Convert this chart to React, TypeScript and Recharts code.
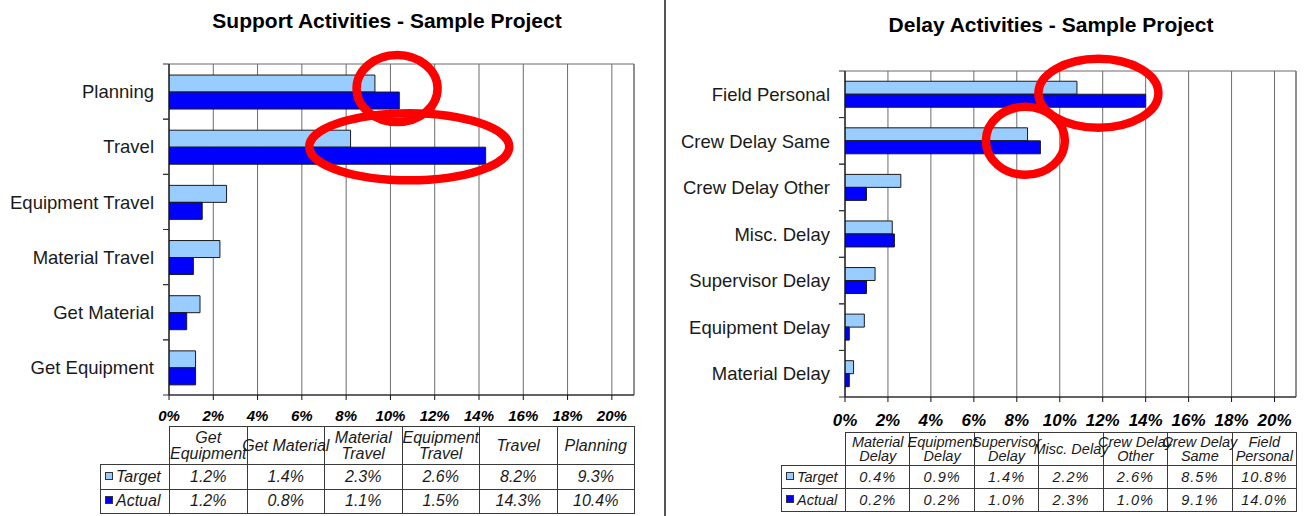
import React from "react";
import { BarChart, Bar, XAxis, YAxis, CartesianGrid, ReferenceArea, ReferenceDot } from "recharts";

const FONT = '"Liberation Sans", Arial, sans-serif';

// left panel: support activities (table order, bottom to top on the chart)
const supportCategories = ["Get Equipment", "Get Material", "Material Travel", "Equipment Travel", "Travel", "Planning"];
const supportHeaderLabels = ["Get\nEquipment", "Get Material", "Material\nTravel", "Equipment\nTravel", "Travel", "Planning"];
const supportTarget = [1.2, 1.4, 2.3, 2.6, 8.2, 9.3];
const supportActual = [1.2, 0.8, 1.1, 1.5, 14.3, 10.4];

// right panel: delay activities
const delayCategories = ["Material Delay", "Equipment Delay", "Supervisor Delay", "Misc. Delay", "Crew Delay Other", "Crew Delay Same", "Field Personal"];
const delayHeaderLabels = ["Material\nDelay", "Equipment\nDelay", "Supervisor\nDelay", "Misc. Delay", "Crew Delay\nOther", "Crew Delay\nSame", "Field\nPersonal"];
const delayTarget = [0.4, 0.9, 1.4, 2.2, 2.6, 8.5, 10.8];
const delayActual = [0.2, 0.2, 1.0, 2.3, 1.0, 9.1, 14.0];

const percentTicks = [0, 2, 4, 6, 8, 10, 12, 14, 16, 18, 20];
const seriesLabels = ["Target", "Actual"];

const TARGET_FILL = "#99CCFF";
const ACTUAL_FILL = "#0000FF";
const GRID = "#6b6b6b";
const RED = "#FF0000";

function CategoryTick(props: any) {
  const { x, y, payload, halfBand, fontSize, gap } = props;
  const axisX = x + gap;
  return (
    <g>
      <line x1={axisX - 6} x2={axisX} y1={y - halfBand} y2={y - halfBand} stroke="#333" />
      <line x1={axisX - 6} x2={axisX} y1={y + halfBand} y2={y + halfBand} stroke="#333" />
      <text x={x} y={y} dy="0.36em" textAnchor="end" fontSize={fontSize} fontFamily={FONT} fill="#1a1a1a">
        {payload.value}
      </text>
    </g>
  );
}

function DataTable({ p, plotLeft, plotWidth }: any) {
  const n = p.categories.length;
  const colW = plotWidth / n;
  const legendW = plotLeft - p.table.left;
  const border = "1px solid #3a3a3a";
  const cell: React.CSSProperties = { border, padding: 0, textAlign: "center", overflow: "visible" };
  const rows = [
    { label: seriesLabels[0], color: TARGET_FILL, values: p.target },
    { label: seriesLabels[1], color: ACTUAL_FILL, values: p.actual },
  ];
  return (
    <table
      style={{
        position: "absolute",
        left: p.table.left,
        top: p.table.top,
        width: legendW + plotWidth,
        borderCollapse: "collapse",
        tableLayout: "fixed",
        fontFamily: FONT,
        fontStyle: "italic",
        color: "#1a1a1a",
        fontSize: p.table.font,
      }}
    >
      <colgroup>
        <col style={{ width: legendW }} />
        {p.categories.map((c: string) => (
          <col key={c} style={{ width: colW }} />
        ))}
      </colgroup>
      <tbody>
        <tr style={{ height: p.table.headerHeight }}>
          <td style={{ padding: 0, border: "none" }} />
          {p.headers.map((h: string) => (
            <td key={h} style={cell}>
              <div style={{ display: "flex", justifyContent: "center", whiteSpace: "pre", lineHeight: `${p.table.font}px`, textAlign: "center" }}>
                {h}
              </div>
            </td>
          ))}
        </tr>
        {rows.map((r) => (
          <tr key={r.label} style={{ height: p.table.rowHeight }}>
            <td style={{ ...cell, textAlign: "left", whiteSpace: "nowrap" }}>
              <span
                style={{
                  display: "inline-block",
                  width: 6,
                  height: 6,
                  background: r.color,
                  border: "1px solid #333",
                  marginLeft: 4,
                  marginRight: 3,
                  verticalAlign: "middle",
                  position: "relative",
                  top: -2,
                }}
              />
              {r.label}
            </td>
            {r.values.map((v: number, i: number) => (
              <td key={i} style={{ ...cell, letterSpacing: p.table.valueSpacing }}>
                {v.toFixed(1)}%
              </td>
            ))}
          </tr>
        ))}
      </tbody>
    </table>
  );
}

function Panel({ p }: any) {
  const data = p.categories.map((name: string, i: number) => ({ name, target: p.target[i], actual: p.actual[i] }));
  const plotLeft = p.left + p.margin.left + p.yWidth;
  const plotWidth = p.width - p.margin.left - p.margin.right - p.yWidth;
  const plotHeight = p.height - p.margin.top - p.margin.bottom - p.xHeight;
  const halfBand = plotHeight / p.categories.length / 2;
  return (
    <>
      <div
        style={{
          position: "absolute",
          left: p.titleCenter - 250,
          top: p.titleTop,
          width: 500,
          textAlign: "center",
          fontFamily: FONT,
          fontWeight: "bold",
          fontSize: 21,
          lineHeight: "21px",
          color: "#000",
        }}
      >
        {p.title}
      </div>
      <div style={{ position: "absolute", left: p.left, top: 0 }}>
        <BarChart width={p.width} height={p.height} data={data} layout="vertical" margin={p.margin} barCategoryGap={p.barGap} barGap={0}>
          <CartesianGrid horizontal={false} stroke={GRID} strokeWidth={1} />
          <XAxis
            type="number"
            domain={[0, 21]}
            ticks={percentTicks}
            allowDataOverflow
            interval={0}
            height={p.xHeight}
            tickFormatter={(v) => `${v}%`}
            axisLine={{ stroke: "#111" }}
            tickLine={{ stroke: "#111" }}
            tickSize={5}
            tickMargin={p.tickMargin}
            tick={{ fill: "#000", fontSize: p.tickFont, fontWeight: "bold", fontStyle: "italic", fontFamily: FONT }}
          />
          <YAxis
            type="category"
            dataKey="name"
            reversed
            interval={0}
            width={p.yWidth}
            axisLine={{ stroke: "#111" }}
            tickLine={false}
            tickSize={6}
            tickMargin={9}
            tick={(t: any) => <CategoryTick {...t} gap={15} halfBand={halfBand} fontSize={p.labelFont} />}
          />
          <ReferenceArea x1={0} x2={21} fill="none" stroke={GRID} ifOverflow="visible" />
          <Bar dataKey="target" fill={TARGET_FILL} stroke="#1a1a1a" strokeWidth={1} isAnimationActive={false} />
          <Bar dataKey="actual" fill={ACTUAL_FILL} stroke="#1a1a1a" strokeWidth={1} isAnimationActive={false} />
          {p.highlights.map((h: any) => (
            <ReferenceDot
              key={h.category}
              x={h.value}
              y={h.category}
              r={1}
              ifOverflow="visible"
              shape={(s: any) => (
                <ellipse cx={s.cx} cy={s.cy + (h.dy ?? 0)} rx={h.rx} ry={h.ry} fill="none" stroke={RED} strokeWidth={8.5} />
              )}
            />
          ))}
        </BarChart>
      </div>
      <DataTable p={p} plotLeft={plotLeft} plotWidth={plotWidth} />
    </>
  );
}

const supportPanel = {
  title: "Support Activities - Sample Project",
  categories: supportCategories,
  headers: supportHeaderLabels,
  target: supportTarget,
  actual: supportActual,
  left: 0,
  width: 650,
  height: 430,
  margin: { top: 64, right: 16, bottom: 5, left: 0 },
  yWidth: 169,
  xHeight: 30,
  tickFont: 15,
  tickMargin: 10,
  labelFont: 18.5,
  barGap: "20%",
  titleCenter: 387,
  titleTop: 10,
  table: { left: 100, top: 426, headerHeight: 38, rowHeight: 24.5, font: 16, valueSpacing: 0 },
  highlights: [
    { category: "Planning", value: 10.3, rx: 40.5, ry: 33.5, dy: -3 },
    { category: "Travel", value: 10.85, rx: 100, ry: 33.5 },
  ],
};

const delayPanel = {
  title: "Delay Activities - Sample Project",
  categories: delayCategories,
  headers: delayHeaderLabels,
  target: delayTarget,
  actual: delayActual,
  left: 665,
  width: 640,
  height: 430,
  margin: { top: 71, right: 9, bottom: 5, left: 0 },
  yWidth: 180,
  xHeight: 28,
  tickFont: 17,
  tickMargin: 12,
  labelFont: 18.5,
  barGap: "22%",
  titleCenter: 1051,
  titleTop: 14,
  table: { left: 781, top: 432, headerHeight: 33, rowHeight: 23, font: 14.5, valueSpacing: 1 },
  highlights: [
    { category: "Field Personal", value: 11.8, rx: 60, ry: 34.5, dy: -1 },
    { category: "Crew Delay Same", value: 8.4, rx: 39.5, ry: 34 },
  ],
};

export default function App() {
  return (
    <div style={{ position: "absolute", left: 0, top: 0, width: 1305, height: 516, background: "#fff", overflow: "hidden" }}>
      <Panel p={supportPanel} />
      <div style={{ position: "absolute", left: 664, top: 0, width: 2, height: 516, background: "#555" }} />
      <Panel p={delayPanel} />
    </div>
  );
}
